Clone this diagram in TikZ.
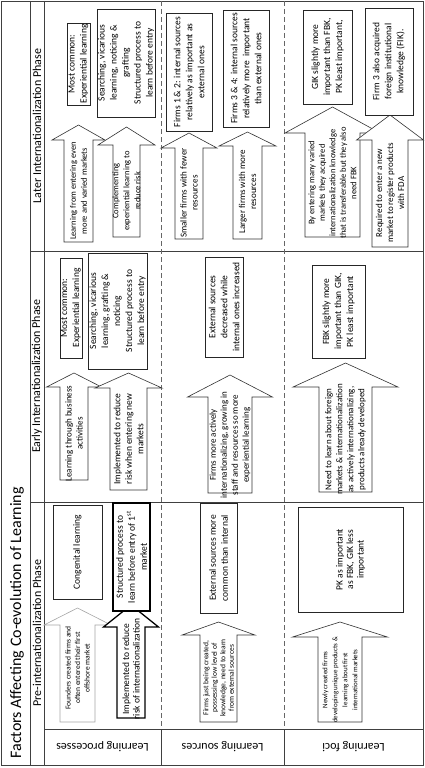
\documentclass[tikz,border=0pt]{standalone}
\usepackage{fontspec}
\setmainfont{Carlito}
\usetikzlibrary{positioning}
\tikzset{
	every node/.style={
		align=center,
	},
	box/.style={draw=black!85, line width=0.6pt, fill=white, inner sep=0pt, rotate=90, font=\fontsize{9.5}{12}\selectfont},
	blockarr/.style={draw=black!80, line width=0.6pt, fill=white},
	arrtext/.style={inner sep=0pt, rotate=90, font=\fontsize{9}{11}\selectfont},
	phase/.style={rotate=90, font=\fontsize{12}{14}\selectfont},
	area/.style={rotate=180, font=\fontsize{12}{14}\selectfont},
	grid/.style={draw=black!75, line width=0.6pt},
	sep/.style={draw=black!60, line width=0.6pt, dash pattern=on 5pt off 3pt},
}
% block arrow pointing up: [style]{x centre}{y foot}{y head base}{y tip}{half shaft}{half head}
\newcommand{\blockarrow}[7][]{%
	\draw[blockarr,#1] ({#2-#6},#3) -- ({#2-#6},#4) -- ({#2-#7},#4) -- (#2,#5)
		-- ({#2+#7},#4) -- ({#2+#6},#4) -- ({#2+#6},#3) -- cycle;}

\begin{document}
\begin{tikzpicture}[x=1pt, y=-1pt]
\useasboundingbox (0,0) rectangle (425,768);

% frame and grid
\draw[grid] (1,1) rectangle (423,765);
\draw[grid] (30,1) -- (30,765);
\draw[grid] (44,1) -- (44,765);
\draw[grid] (30,251) -- (423,251);
\draw[grid] (30,502) -- (423,502);
\draw[grid] (44,729) -- (423,729);
\draw[sep] (161,1) -- (161,729);
\draw[sep] (284,1) -- (284,729);
\draw[grid] (161,729) -- (161,765);
\draw[grid] (284,729) -- (284,765);

% headings
\node (title) [rotate=90, anchor=base west, font=\fontsize{16}{18}\selectfont] at (21,762) {Factors Affecting Co-evolution of Learning};
\node (later) [phase] at (37,126) {Later Internationalization Phase};
\node (early) [phase] at (37,376) {Early Internationalization Phase};
\node (pre) [phase] at (37,633) {Pre-internationalization Phase};
\node (proc) [area] at (102.5,747) {Learning processes};
\node (srcs) [area] at (222.5,747) {Learning sources};
\node (foci) [area] at (353.5,747) {Learning foci};

% later phase
\blockarrow{78.5}{242}{140}{125}{14.5}{26.5}
\blockarrow{126.5}{237}{145}{127}{13.5}{28.5}
\blockarrow{189}{239}{148}{133}{14}{28}
\blockarrow{247.5}{239}{146}{132}{14.5}{28.5}
\blockarrow{332.5}{237}{133}{107}{27.5}{47.5}
\blockarrow{390}{247}{140}{115}{18}{33.5}
\node (lpa1) [arrtext, font=\fontsize{8.5}{11}\selectfont] at (78.5,191) {Learning from entering even\\more and varied markets};
\node (lpa2) [arrtext, font=\fontsize{8.5}{11}\selectfont] at (126.5,191) {Complementing\\experiential learning to\\reduce risk};
\node (lsa1) [arrtext] at (189,193) {Smaller firms with fewer\\resources};
\node (lsa2) [arrtext] at (247.5,192) {Larger firms with more\\resources};
\node (lfa1) [arrtext, font=\fontsize{8.5}{10.5}\selectfont] at (332.5,183) {By entering many varied\\markets they acquired\\internationalization knowledge\\that is transferable but they also\\need FBK};
\node (lfa2) [arrtext] at (390,193) {Required to enter a new\\market to register products\\with FDA};
\node (lp1) [box, minimum width=82pt, minimum height=23pt] at (78.5,64) {Most common:\\Experiential learning};
\node (lp2) [box, minimum width=108pt, minimum height=58pt] at (126,63) {Searching, vicarious\\learning, noticing \&\\grafting\\Structured process to\\learn before entry};
\node (ls1) [box, minimum width=118pt, minimum height=46pt] at (189,72) {Firms 1 \& 2: internal sources\\relatively as important as\\external ones};
\node (ls2) [box, minimum width=117pt, minimum height=46pt] at (246,68.5) {Firms 3 \& 4: internal sources\\relatively more\ \ important\\than external ones};
\node (lf1) [box, minimum width=94pt, minimum height=49pt] at (327.5,57) {GIK slightly more\\important than FBK,\\PK least important,};
\node (lf2) [box, minimum width=107pt, minimum height=48pt] at (389,61.5) {Firm 3 also acquired\\foreign institutional\\knowledge (FIK).};

% early phase
\blockarrow{74}{480}{387}{373}{14}{27.5}
\blockarrow{128.5}{490}{388}{373}{18.5}{33.5}
\blockarrow{230}{493}{397}{375}{22}{42.5}
\blockarrow{345.5}{492}{387}{363}{26.5}{52.5}
\node (epa1) [arrtext] at (74,433.5) {Learning through business\\activities};
\node (epa2) [arrtext, font=\fontsize{9.5}{11.5}\selectfont] at (128.5,439) {Implemented to reduce\\risk when entering new\\markets};
\node (esa1) [arrtext] at (230,445) {Firms more actively\\internationalizing, growing in\\staff and resources so more\\experiential learning};
\node (efa1) [arrtext] at (345.5,439.5) {Need to learn about foreign\\markets \& internationalization\\as actively internationalizing,\\products already developed};
\node (ep1) [box, minimum width=100pt, minimum height=22pt] at (71,308) {Most common:\\Experiential learning};
\node (ep2) [box, minimum width=116pt, minimum height=59pt] at (117.5,311) {Searching, vicarious\\learning, grafting \&\\noticing\\Structured process to\\learn before entry};
\node (es1) [box, minimum width=100pt, minimum height=38pt] at (224,307) {External sources\\decreased while\\internal ones increased};
\node (ef1) [box, minimum width=93pt, minimum height=53pt] at (338.5,311.5) {FBK slightly more\\important than GIK,\\PK least important};

% pre-internationalization phase
\blockarrow[draw=black!35]{77.5}{722}{625}{608}{17.5}{33.5}
\blockarrow[draw=black, line width=1.3pt]{131}{718}{627}{605}{14}{27.5}
\blockarrow{218.5}{722}{635}{622}{18.5}{36.5}
\blockarrow{340}{722}{637}{622}{22}{47.5}
\node (ppa1) [arrtext, font=\fontsize{7.5}{9.5}\selectfont] at (77.5,668) {Founders created firms and\\often entered their first\\offshore market};
\node (ppa2) [arrtext, font=\fontsize{9.5}{10.5}\selectfont] at (131,669) {Implemented to reduce\\risk of internationalization};
\node (psa1) [arrtext, font=\fontsize{7.5}{8.5}\selectfont] at (218.5,678) {Firms just being created,\\possessing low level of\\knowledge, need to learn\\from external sources};
\node (pfa1) [arrtext, font=\fontsize{7}{10}\selectfont] at (340,680) {Newly created firms\\developing unique products \&\\learning about first\\international markets};
\node (pp1) [box, minimum width=94pt, minimum height=49pt] at (77.5,552) {Congenital learning};
\node (pp2) [box, draw=black, line width=1.3pt, minimum width=108pt, minimum height=37pt] at (131.5,557) {Structured process to\\learn before entry of 1\textsuperscript{st}\\market};
\node (ps1) [box, minimum width=110pt, minimum height=37pt] at (218.5,558) {External sources more\\common than internal};
\node (pf1) [box, minimum width=105pt, minimum height=105pt, font=\fontsize{9.5}{10.5}\selectfont] at (350.5,559.5) {PK as important\\as FBK, GIK less\\important};

\end{tikzpicture}
\end{document}
